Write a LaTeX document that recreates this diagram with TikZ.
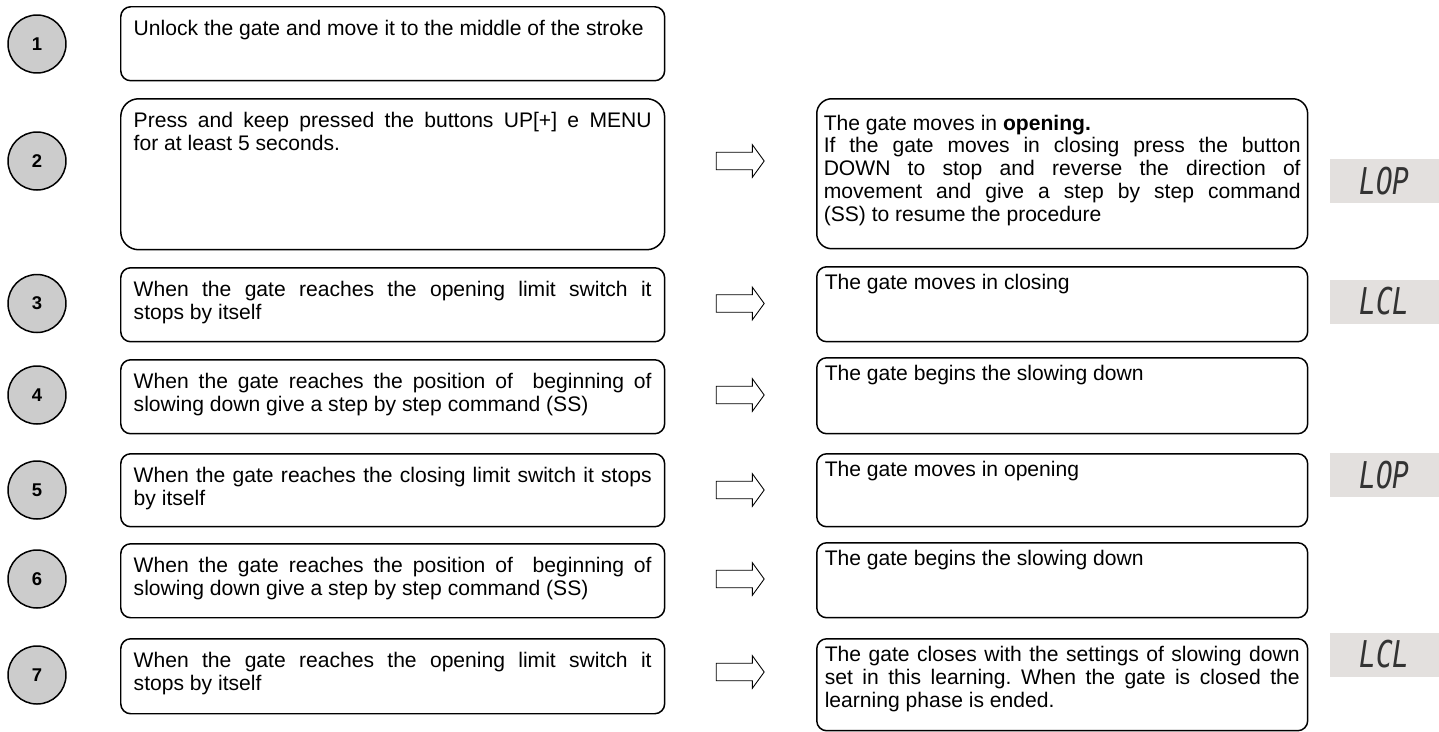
\documentclass[tikz,border=0pt]{standalone}
\usepackage{fontspec}
\setmainfont{Liberation Sans}
\newfontfamily\lcdfont{DejaVu Sans Mono}[FakeStretch=0.75]
\usetikzlibrary{shapes.arrows}
\definecolor{lcdbg}{HTML}{E3E0DE}
\definecolor{lcdfg}{HTML}{333333}
\definecolor{circ}{HTML}{CCCCCC}
\newcommand{\steptext}[3]{\parbox[t][#1][t]{#2}{\frenchspacing\tolerance=10000\hbadness=10000\hyphenpenalty=10000 #3}}
\tikzset{
  stepnum/.style={circle, draw, line width=0.85pt, fill=circ, minimum size=1.16cm, inner sep=0pt, font=\fontsize{10.5}{12}\selectfont\bfseries},
  leftbox/.style={draw, line width=0.85pt, rounded corners=0.2cm, anchor=north west, inner xsep=0.26cm, inner ysep=0.27cm, font=\fontsize{12}{13}\selectfont},
  rightbox/.style={leftbox, inner xsep=0.16cm, inner ysep=0.15cm},
  flowarrow/.style={single arrow, draw, line width=0.5pt, fill=white, minimum height=0.96cm, single arrow head extend=0.15cm, single arrow tip angle=108, inner xsep=0pt, inner ysep=0.167cm},
  display/.style={fill=lcdbg, minimum width=2.18cm, minimum height=0.88cm, inner sep=0pt, text=lcdfg, font=\lcdfont\itshape\fontsize{21}{21}\selectfont},
}

\begin{document}
\begin{tikzpicture}[x=0.02cm, y=-0.02cm]
  \useasboundingbox (0,0) rectangle (1439,731);
  % step numbers
  \node[stepnum] (n1) at (37,44) {1};
  \node[stepnum] (n2) at (37,161) {2};
  \node[stepnum] (n3) at (37,303.5) {3};
  \node[stepnum] (n4) at (37,395) {4};
  \node[stepnum] (n5) at (37,490) {5};
  \node[stepnum] (n6) at (37,579) {6};
  \node[stepnum] (n7) at (37,675) {7};
  % what to do
  \node[leftbox] (s1) at (120,6) {\steptext{0.94cm}{10.36cm}{Unlock the gate and move it to the middle of the stroke}};
  \node[leftbox, rounded corners=0.36cm] (s2) at (120,98) {\steptext{2.48cm}{10.36cm}{Press and keep pressed the buttons UP[+] e MENU\linebreak for at least 5 seconds.}};
  \node[leftbox] (s3) at (120,267) {\steptext{0.94cm}{10.36cm}{When the gate reaches the opening limit switch it\linebreak stops by itself}};
  \node[leftbox] (s4) at (120,359) {\steptext{0.94cm}{10.36cm}{When the gate reaches the position of\ \ beginning of\linebreak slowing down give a step by step command (SS)}};
  \node[leftbox] (s5) at (120,453) {\steptext{0.92cm}{10.36cm}{When the gate reaches the closing limit switch it stops\linebreak by itself}};
  \node[leftbox] (s6) at (120,543) {\steptext{0.94cm}{10.36cm}{When the gate reaches the position of\ \ beginning of\linebreak slowing down give a step by step command (SS)}};
  \node[leftbox] (s7) at (120,638) {\steptext{0.96cm}{10.36cm}{When the gate reaches the opening limit switch it\linebreak stops by itself}};
  % arrows
  \node[flowarrow] (a2) at (737,161) {};
  \node[flowarrow] (a3) at (737,303.5) {};
  \node[flowarrow] (a4) at (737,395) {};
  \node[flowarrow] (a5) at (737,490) {};
  \node[flowarrow] (a6) at (737,579) {};
  \node[flowarrow] (a7) at (737,672) {};
  % what happens
  \node[rightbox, rounded corners=0.3cm, inner xsep=0.14cm, inner ysep=0.32cm] (r2) at (816,98) {\steptext{2.36cm}{9.54cm}{The gate moves in \textbf{opening.}\\ If the gate moves in closing press the button\linebreak DOWN to stop and reverse the direction of\linebreak movement and give a step by step command\linebreak (SS) to resume the procedure}};
  \node[rightbox] (r3) at (816,266) {\steptext{1.2cm}{9.5cm}{The gate moves in closing}};
  \node[rightbox] (r4) at (816,357) {\steptext{1.22cm}{9.5cm}{The gate begins the slowing down}};
  \node[rightbox] (r5) at (816,453) {\steptext{1.16cm}{9.5cm}{The gate moves in opening}};
  \node[rightbox] (r6) at (816,542) {\steptext{1.2cm}{9.5cm}{The gate begins the slowing down}};
  \node[rightbox] (r7) at (816,638) {\steptext{1.54cm}{9.5cm}{The gate closes with the settings of slowing down\linebreak set in this learning. When the gate is closed the\linebreak learning phase is ended.}};
  % display
  \node[display] (d2) at (1384.5,181) {LOP};
  \node[display] (d3) at (1384.5,301.5) {LCL};
  \node[display] (d5) at (1384.5,475) {LOP};
  \node[display] (d7) at (1384.5,654.5) {LCL};
\end{tikzpicture}
\end{document}
